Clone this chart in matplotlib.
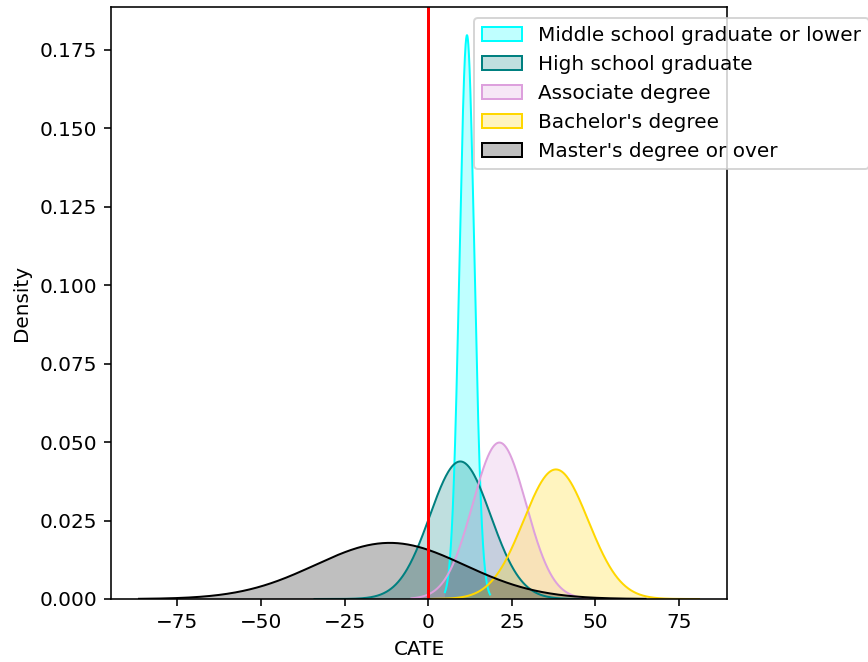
import numpy as np
import matplotlib
matplotlib.use("Agg")
import matplotlib.pyplot as plt

# Education groups and the shape of each group's CATE density
groups = ["Middle school graduate or lower", "High school graduate",
          "Associate degree", "Bachelor's degree", "Master's degree or over"]
colors = ["cyan", "teal", "plum", "gold", "black"]
centers = [11.6, 9.6, 21.3, 38.2, -11.5]
spreads = [2.22, 9.1, 8.0, 9.66, 22.3]
support_lo = [5.0, -34.0, -5.0, 1.0, -86.5]
support_hi = [18.5, 52.0, 48.0, 81.0, 65.0]

DPI = 144
fig = plt.figure(figsize=(868 / DPI, 662 / DPI), dpi=DPI)
ax = fig.add_axes([111 / 868, 63 / 662, 616 / 868, 592 / 662])

for name, c, mu, sd, lo, hi in zip(groups, colors, centers, spreads, support_lo, support_hi):
    x = np.linspace(lo, hi, 500)
    dens = np.exp(-0.5 * ((x - mu) / sd) ** 2) / (sd * np.sqrt(2 * np.pi))
    ax.fill_between(x, 0, dens, facecolor=c, alpha=0.25, edgecolor="none")
    ax.plot(x, dens, color=c, lw=1.0)
    ax.fill_between([], [], [], facecolor=matplotlib.colors.to_rgba(c, 0.25),
                    edgecolor=c, lw=1.0, label=name)

ax.axvline(0, color="red", lw=1.5)

ax.set_ylim(bottom=0)
ax.set_xlabel("CATE")
ax.set_ylabel("Density")
ax.set_yticks(np.arange(0, 0.176, 0.025))

ax.legend(loc="upper left", bbox_to_anchor=(0.589, 0.981), borderaxespad=0)

fig.savefig("out.png", dpi=DPI)
